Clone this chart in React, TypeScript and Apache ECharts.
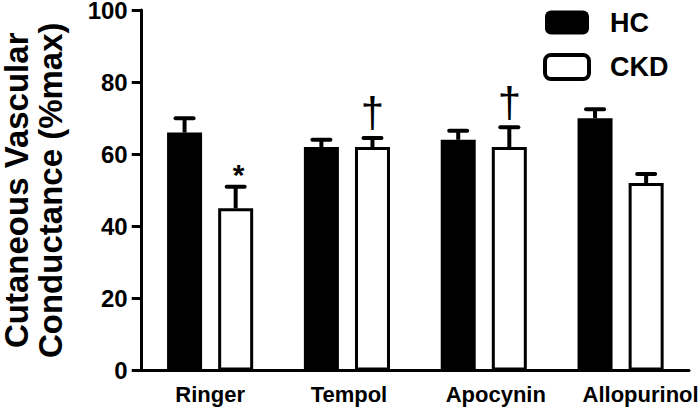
import React, { useEffect, useRef } from "react";
import * as echarts from "echarts";

const categories = ["Ringer", "Tempol", "Apocynin", "Allopurinol"];
const hcValues = [66, 62, 64, 70];
const hcErrors = [4, 2, 2.5, 2.5];
const ckdValues = [45, 62, 62, 52];
const ckdErrors = [6, 2.5, 5.5, 2.5];
const ckdMarks = ["*", "\u2020", "\u2020", ""];
const yTicks = [0, 20, 40, 60, 80, 100];

const FONT = "'Liberation Sans', Arial, Helvetica, sans-serif";
const BAR_W = 35;
const BAR_GAP = 0.46;
// horizontal nudge (px) of each category label, as in the original figure
const LABEL_SHIFT = [0, 2, 12, 20];

function errorSeries(name: string, values: number[], errors: number[], side: number, marks: string[] | null) {
  const off = (side * (BAR_W + BAR_W * BAR_GAP)) / 2;
  return {
    type: "custom",
    name: name + "-err",
    z: 5,
    data: values.map((v, i) => [i, v, errors[i]]),
    renderItem: (params: any, api: any) => {
      const i = api.value(0);
      const v = api.value(1);
      const e = api.value(2);
      const base = api.coord([i, v]);
      const top = api.coord([i, v + e]);
      const cx = base[0] + off;
      const children: any[] = [
        { type: "line", shape: { x1: cx, y1: base[1], x2: cx, y2: top[1] }, style: { stroke: "#000", lineWidth: 4 } },
        { type: "line", shape: { x1: cx - 9, y1: top[1], x2: cx + 9, y2: top[1] }, style: { stroke: "#000", lineWidth: 4, lineCap: "round" } },
      ];
      const m = marks ? marks[params.dataIndex] : "";
      if (m) {
        const isStar = m === "*";
        children.push({
          type: "text",
          x: cx + (isStar ? 3 : 0),
          y: top[1] - (isStar ? 12 : 25),
          style: {
            text: m,
            fill: "#000",
            font: isStar ? `bold 30px ${FONT}` : `42px ${FONT}`,
            textAlign: "center",
            textVerticalAlign: "middle",
          },
        });
      }
      return { type: "group", children };
    },
  };
}

const labelRich: Record<string, any> = {};
LABEL_SHIFT.forEach((s, i) => {
  labelRich["c" + i] = {
    fontSize: 22,
    fontWeight: "bold",
    color: "#000",
    fontFamily: FONT,
    padding: [0, 0, 0, s * 2],
  };
});

export default function App() {
  const ref = useRef<HTMLDivElement>(null);
  useEffect(() => {
    if (!ref.current) return;
    const chart = echarts.init(ref.current, null, { renderer: "svg" });
    chart.setOption({
      animation: false,
      backgroundColor: "#fff",
      textStyle: { fontFamily: FONT },
      grid: { left: 141.7, right: 11, top: 10, bottom: 37.5, containLabel: false, outerBoundsMode: "none" },
      legend: {
        orient: "vertical",
        left: 543,
        top: 9,
        padding: 0,
        itemWidth: 44,
        itemHeight: 24,
        itemGap: 17,
        textStyle: { fontSize: 27, fontWeight: "bold", color: "#000", fontFamily: FONT, padding: [0, 0, 0, 16] },
        data: [
          { name: "HC", icon: "roundRect", itemStyle: { color: "#000", borderColor: "#000", borderWidth: 0 } },
          { name: "CKD", icon: "roundRect", itemStyle: { color: "#fff", borderColor: "#000", borderWidth: 4 } },
        ],
      },
      xAxis: {
        type: "category",
        data: categories,
        axisLine: { lineStyle: { color: "#000", width: 3 } },
        axisTick: { show: false },
        axisLabel: {
          color: "#000",
          fontSize: 22,
          fontWeight: "bold",
          margin: 13,
          interval: 0,
          fontFamily: FONT,
          formatter: (val: string, idx: number) => `{c${idx}|${val}}`,
          rich: labelRich,
        },
      },
      yAxis: {
        type: "value",
        min: yTicks[0],
        max: yTicks[yTicks.length - 1],
        interval: 20,
        name: "Cutaneous Vascular\nConductance (%max)",
        nameLocation: "middle",
        nameRotate: 90,
        nameGap: 74,
        nameTextStyle: { fontSize: 33, fontWeight: "bold", color: "#000", lineHeight: 34, fontFamily: FONT },
        axisLine: { show: true, lineStyle: { color: "#000", width: 3 } },
        axisTick: { show: true, length: 10, lineStyle: { color: "#000", width: 3 } },
        axisLabel: { color: "#000", fontSize: 24, lineHeight: 20, fontWeight: "bold", margin: 14, fontFamily: FONT },
        splitLine: { show: false },
      },
      series: [
        {
          name: "HC",
          type: "bar",
          data: hcValues,
          barWidth: BAR_W,
          barGap: BAR_GAP * 100 + "%",
          itemStyle: { color: "#000", borderColor: "#000", borderWidth: 3 },
        },
        {
          name: "CKD",
          type: "bar",
          data: ckdValues,
          barWidth: BAR_W,
          barGap: BAR_GAP * 100 + "%",
          itemStyle: { color: "#fff", borderColor: "#000", borderWidth: 3 },
        },
        errorSeries("HC", hcValues, hcErrors, -1, null),
        errorSeries("CKD", ckdValues, ckdErrors, 1, ckdMarks),
      ],
    });
    return () => chart.dispose();
  }, []);
  return <div ref={ref} style={{ position: "fixed", left: 0, top: 0, width: 700, height: 408 }} />;
}
